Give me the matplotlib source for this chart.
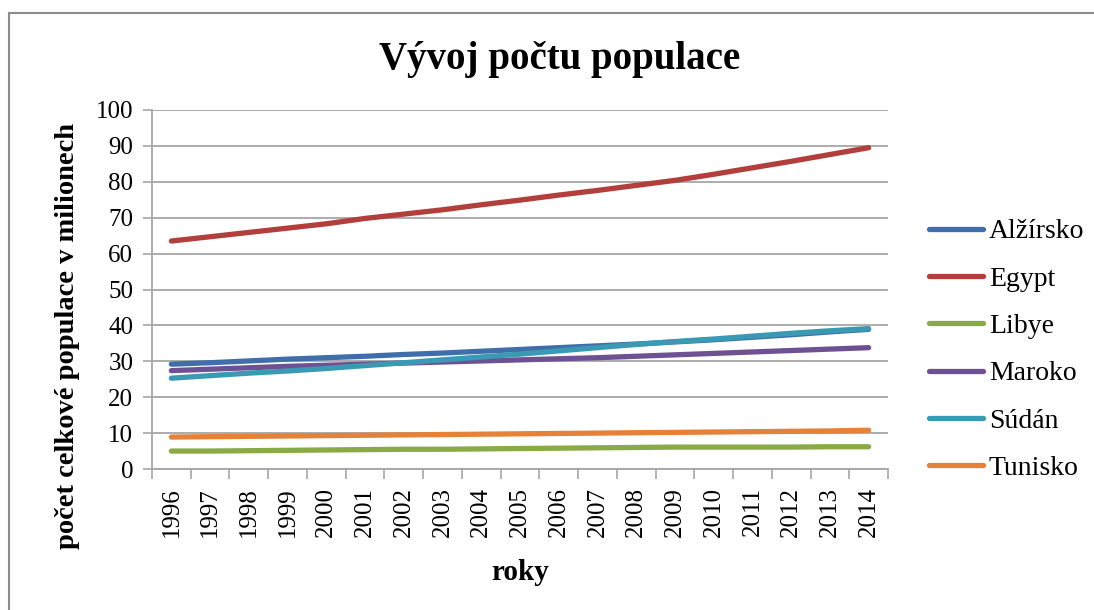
import matplotlib.pyplot as plt
from matplotlib.patches import Rectangle
from matplotlib.ticker import FixedLocator

years = [str(y) for y in range(1996, 2015)]

algeria = [29.2, 29.6, 30.1, 30.6, 31.0, 31.4, 31.9, 32.3, 32.8, 33.3,
           33.8, 34.3, 34.8, 35.4, 36.0, 36.7, 37.4, 38.2, 38.9]
egypt = [63.5, 64.7, 65.9, 67.1, 68.3, 69.8, 71.0, 72.2, 73.6, 74.9,
         76.3, 77.6, 79.0, 80.4, 82.1, 83.9, 85.7, 87.6, 89.5]
libya = [5.0, 5.0, 5.1, 5.2, 5.3, 5.4, 5.5, 5.5, 5.6, 5.7,
         5.8, 5.9, 6.0, 6.1, 6.1, 6.1, 6.1, 6.2, 6.2]
morocco = [27.4, 27.8, 28.2, 28.6, 28.9, 29.2, 29.5, 29.8, 30.1, 30.4,
           30.7, 31.0, 31.4, 31.8, 32.2, 32.6, 33.0, 33.4, 33.8]
sudan = [25.3, 26.0, 26.7, 27.3, 28.0, 28.8, 29.6, 30.4, 31.2, 32.0,
         32.9, 33.8, 34.7, 35.5, 36.2, 37.0, 37.8, 38.5, 39.1]
tunisia = [8.9, 9.0, 9.1, 9.2, 9.3, 9.4, 9.5, 9.6, 9.7, 9.8,
           9.9, 10.0, 10.1, 10.2, 10.3, 10.4, 10.5, 10.6, 10.8]

series = [
    ("Alžírsko", algeria, "#3F6EAA"),
    ("Egypt", egypt, "#B23F3B"),
    ("Libye", libya, "#8AAA48"),
    ("Maroko", morocco, "#6E5193"),
    ("Súdán", sudan, "#3A9AB3"),
    ("Tunisko", tunisia, "#E6813A"),
]

plt.rcParams["font.family"] = ["Liberation Serif", "DejaVu Serif"]

W, H = 1094, 610
fig = plt.figure(figsize=(W / 100, H / 100), dpi=100)
ax = fig.add_axes([152 / W, 1 - 469 / H, (888 - 152) / W, (469 - 110) / H])

# outer chart frame (cut off at right and bottom)
fig.patches.append(Rectangle((9 / W, -0.1), 1.2, 1 - 13 / H + 0.1,
                             transform=fig.transFigure, fill=False,
                             edgecolor="#8C8C8C", linewidth=1.5))

x = list(range(len(years)))
for name, vals, col in series:
    ax.plot(x, vals, color=col, linewidth=3.8, label=name,
            solid_capstyle="round", solid_joinstyle="round")

ax.set_xlim(-0.5, len(years) - 0.5)
ax.set_ylim(0, 100)
ax.set_yticks(range(0, 101, 10))
ax.yaxis.grid(True, color="#A6A6A6", linewidth=1.3)
ax.set_axisbelow(True)

ax.set_xticks(x)
ax.set_xticklabels(years, rotation=90, fontsize=18)
ax.xaxis.set_minor_locator(FixedLocator([i - 0.5 for i in range(len(years) + 1)]))
ax.tick_params(axis="x", which="major", length=0, pad=13)
ax.tick_params(axis="x", which="minor", length=7, width=1.2, color="#A6A6A6")
ax.tick_params(axis="y", length=6.5, width=1.2, color="#A6A6A6", pad=7,
               labelsize=18)

for s in ["top", "right"]:
    ax.spines[s].set_visible(False)
for s in ["left", "bottom"]:
    ax.spines[s].set_color("#A6A6A6")
    ax.spines[s].set_linewidth(1.3)

fig.text(560 / W, 1 - 60 / H, "Vývoj počtu populace", ha="center",
         va="center", fontsize=28, fontweight="bold")
fig.text(68 / W, 1 - 336 / H, "počet celkové populace v milionech",
         rotation=90, ha="center", va="center", fontsize=20.5,
         fontweight="bold")
fig.text(520 / W, 1 - 573 / H, "roky", ha="center", va="center",
         fontsize=21, fontweight="bold")

fig.legend(loc="center left", bbox_to_anchor=(929 / W, 1 - 350 / H),
           frameon=False, fontsize=20, handlelength=1.95, handletextpad=0.2,
           labelspacing=0.79, borderpad=0, borderaxespad=0)

fig.savefig("out.png", dpi=100)
